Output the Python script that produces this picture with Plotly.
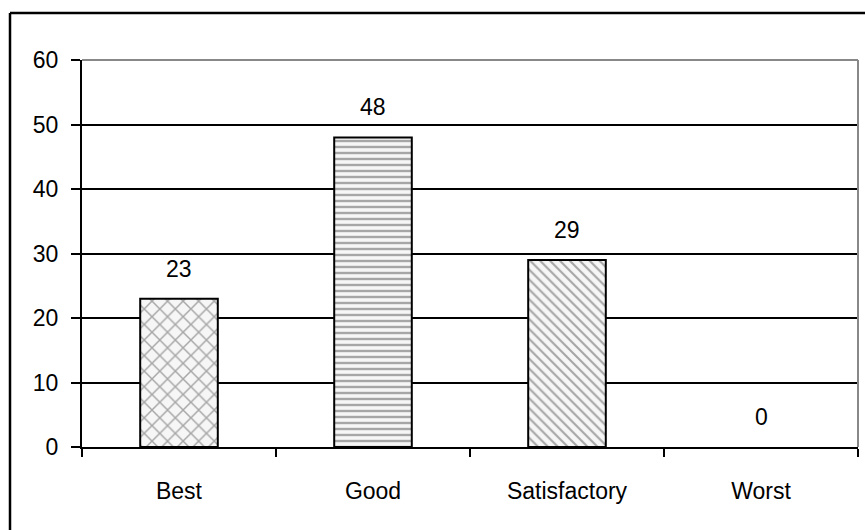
import plotly.graph_objects as go

# Survey ratings
categories = ["Best", "Good", "Satisfactory", "Worst"]
counts = [23, 48, 29, 0]
y_ticks = [0, 10, 20, 30, 40, 50, 60]

W, H = 865, 530
L, R, T, B = 82, 7, 60, 83
pw, ph = W - L - R, H - T - B


def px_x(p):
    return (p - L) / pw


def px_y(p):
    return (H - B - p) / ph


fig = go.Figure()
fig.add_trace(go.Bar(
    x=categories,
    y=counts,
    width=0.40,
    marker=dict(
        color="#f4f4f4",
        line=dict(color="black", width=[2 if v > 0 else 0 for v in counts]),
        pattern=dict(
            shape=["x", "-", "\\", ""],
            fgcolor="#555555",
            bgcolor="#f6f6f6",
            size=[11, 6, 7, 6],
            solidity=[0.25, 0.4, 0.3, 0.3],
        ),
    ),
    hoverinfo="skip",
))

# value labels above the bars
for c, v in zip(categories, counts):
    fig.add_annotation(x=c, y=v, text=str(v), showarrow=False, yshift=30,
                       font=dict(size=23, color="black"))

shapes = [
    # right edge of plot area
    dict(type="line", xref="paper", yref="paper", x0=1, x1=1, y0=0, y1=1,
         line=dict(color="#888888", width=2)),
    # top edge of plot area
    dict(type="line", xref="paper", yref="paper", x0=0, x1=1, y0=1, y1=1,
         line=dict(color="#888888", width=2)),
    # outer chart frame
    dict(type="line", xref="paper", yref="paper", x0=px_x(10), x1=px_x(900),
         y0=px_y(13), y1=px_y(13), line=dict(color="black", width=2.5)),
    dict(type="line", xref="paper", yref="paper", x0=px_x(10), x1=px_x(10),
         y0=px_y(13), y1=px_y(600), line=dict(color="black", width=2.5)),
]

fig.update_layout(
    width=W, height=H,
    margin=dict(l=L, r=R, t=T, b=B),
    paper_bgcolor="white", plot_bgcolor="white",
    font=dict(family="Liberation Sans, Arial, sans-serif", color="black", size=23),
    showlegend=False,
    bargap=0.6,
    shapes=shapes,
    xaxis=dict(
        type="category",
        showline=True, linecolor="black", linewidth=2,
        ticks="outside", tickson="boundaries", ticklen=8, tickwidth=2,
        tickcolor="black", showgrid=False,
        tickfont=dict(size=23), ticklabelstandoff=22,
        range=[-0.5, 3.5],
    ),
    yaxis=dict(
        range=[0, 60], tickvals=y_ticks,
        showline=True, linecolor="black", linewidth=2,
        ticks="outside", ticklen=9, tickwidth=2, tickcolor="black",
        showgrid=True, gridcolor="black", gridwidth=2,
        zeroline=False, tickfont=dict(size=23),
        ticklabelstandoff=8,
    ),
)

fig.write_html("out.html")
